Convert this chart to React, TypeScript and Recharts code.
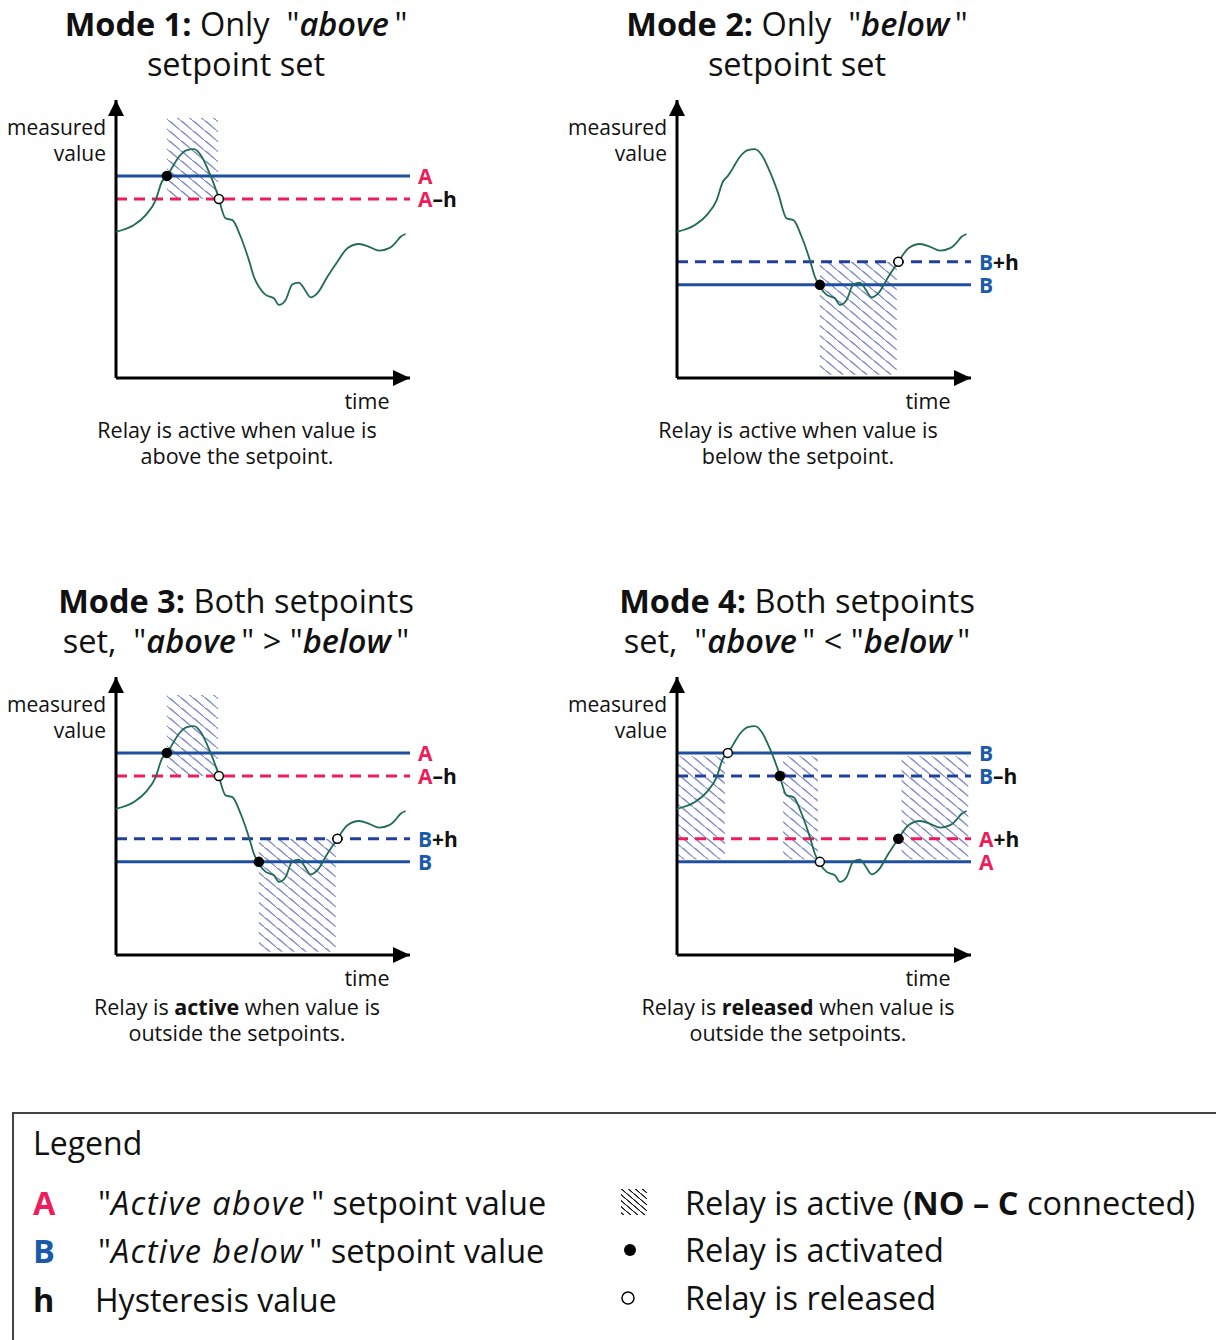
import React from 'react';
import { LineChart, Line, XAxis, YAxis, ReferenceLine, ReferenceArea, ReferenceDot } from 'recharts';

// measured value over time, same curve in every panel (time 0..100, value 0..100)
const times = [0, 6.1, 10.1, 13.5, 15.6, 17.3, 19.0, 21.4, 24.1, 26.5, 28.8, 31.6, 34.4, 37.3, 39.6, 42.4, 45.2, 46.9, 48.6, 50.9, 53.7, 55.4, 57.7, 60.0, 62.2, 63.9, 66.2, 68.5, 71.9, 75.3, 78.7, 82.7, 86.1, 89.5, 92.9, 95.1, 96.8, 98.5];
const values = [52.6, 55.0, 58.6, 64.0, 70.6, 72.7, 75.5, 79.6, 82.0, 82.3, 80.2, 74.2, 66.5, 57.4, 56.8, 50.8, 42.4, 36.4, 32.8, 29.9, 28.7, 26.3, 28.1, 33.7, 34.3, 32.3, 29.0, 30.5, 36.4, 41.8, 46.7, 48.2, 47.2, 45.8, 46.7, 48.7, 50.8, 51.8];

const HIGH = 72.7;
const LOW = 33.5;
const HYST = 8.3;

type SetLine = { value: number; letter: 'A' | 'B'; suffix: string; dashed: boolean };
type Area = { x1: number; x2: number; y1: number; y2: number };
type Mark = { t: number; v: number; on: boolean };

const mode1Lines: SetLine[] = [
  { value: HIGH, letter: 'A', suffix: '', dashed: false },
  { value: HIGH - HYST, letter: 'A', suffix: '–h', dashed: true },
];
const mode2Lines: SetLine[] = [
  { value: LOW + HYST, letter: 'B', suffix: '+h', dashed: true },
  { value: LOW, letter: 'B', suffix: '', dashed: false },
];
const mode3Lines: SetLine[] = [...mode1Lines, ...mode2Lines];
const mode4Lines: SetLine[] = [
  { value: HIGH, letter: 'B', suffix: '', dashed: false },
  { value: HIGH - HYST, letter: 'B', suffix: '–h', dashed: true },
  { value: LOW + HYST, letter: 'A', suffix: '+h', dashed: true },
  { value: LOW, letter: 'A', suffix: '', dashed: false },
];

const activeHigh: Area = { x1: 17.3, x2: 34.7, y1: 64.4, y2: 93.5 };
const activeLow: Area = { x1: 48.6, x2: 74.8, y1: 1.2, y2: 41.8 };
const mode4Active: Area[] = [
  { x1: 0.4, x2: 16.3, y1: 34.4, y2: 71.6 },
  { x1: 36.1, x2: 47.9, y1: 34.4, y2: 71.6 },
  { x1: 76.4, x2: 99.1, y1: 34.4, y2: 71.6 },
];

const mode1Marks: Mark[] = [{ t: 17.3, v: HIGH, on: true }, { t: 35.0, v: HIGH - HYST, on: false }];
const mode2Marks: Mark[] = [{ t: 48.6, v: LOW, on: true }, { t: 75.3, v: LOW + HYST, on: false }];
const mode4Marks: Mark[] = [
  { t: 17.3, v: HIGH, on: false },
  { t: 35.0, v: HIGH - HYST, on: true },
  { t: 48.6, v: LOW, on: false },
  { t: 75.3, v: LOW + HYST, on: true },
];

const curve = times.map((t, i) => ({ t, v: values[i] }));

const PINK = '#ee1c5a';
const BLUE = '#1f4f9f';
const DARK_BLUE = '#22409a';
const LABEL_BLUE = '#1a5aaa';
const FONT = '"Open Sans", "Noto Sans", sans-serif';

const UpArrow = (p: any) => (
  <polygon points={`${p.cx},${p.cy} ${p.cx - 8},${p.cy + 16} ${p.cx + 8},${p.cy + 16}`} fill="#000" />
);
const RightArrow = (p: any) => (
  <polygon points={`${p.cx},${p.cy} ${p.cx - 17},${p.cy - 8} ${p.cx - 17},${p.cy + 8}`} fill="#000" />
);

function ModeChart({ id, lines, areas, marks }: { id: string; lines: SetLine[]; areas: Area[]; marks: Mark[] }) {
  return (
    <LineChart width={384} height={318} data={curve} margin={{ top: 20, right: 70, bottom: 20, left: 20 }}>
      <defs>
        {/* scribbled zig-zag hatch for "relay active" */}
        <pattern id={`hatch-${id}`} width={12} height={10} patternUnits="userSpaceOnUse">
          <path d="M-1.2,-1 L13.2,11 M12,10 L2.4,1.4" stroke="#7f89c9" strokeWidth={1.1} fill="none" />
        </pattern>
      </defs>
      <XAxis type="number" dataKey="t" domain={[0, 100]} hide />
      <YAxis type="number" domain={[0, 100]} hide />
      {areas.map((a, i) => (
        <ReferenceArea key={i} x1={a.x1} x2={a.x2} y1={a.y1} y2={a.y2} fill={`url(#hatch-${id})`} fillOpacity={1} stroke="none" />
      ))}
      {lines.map((l, i) => (
        <ReferenceLine
          key={i}
          y={l.value}
          stroke={l.dashed ? (l.letter === 'A' ? PINK : DARK_BLUE) : BLUE}
          strokeWidth={3}
          strokeDasharray={l.dashed ? '11 7' : undefined}
          label={(p: any) => {
            const vb = p.viewBox || {};
            return (
              <text x={vb.x + vb.width + 8} y={vb.y} dominantBaseline="central" fontFamily={FONT} fontSize={21} fontWeight={700}>
                <tspan fill={l.letter === 'A' ? PINK : LABEL_BLUE}>{l.letter}</tspan>
                {l.suffix ? <tspan fill="#111">{l.suffix}</tspan> : null}
              </text>
            );
          }}
        />
      ))}
      <ReferenceLine x={0} stroke="#000" strokeWidth={3} />
      <ReferenceLine y={0} stroke="#000" strokeWidth={3} />
      <Line dataKey="v" type="monotone" stroke="#1f6b55" strokeWidth={1.8} dot={false} isAnimationActive={false} />
      {marks.map((m, i) => (
        <ReferenceDot key={i} x={m.t} y={m.v} r={4.5} fill={m.on ? '#000' : '#fff'} stroke="#000" strokeWidth={1.5} />
      ))}
      <ReferenceDot x={0} y={100} shape={UpArrow} />
      <ReferenceDot x={100} y={0} shape={RightArrow} />
    </LineChart>
  );
}

const txt: React.CSSProperties = { position: 'absolute', fontFamily: FONT, color: '#111', whiteSpace: 'nowrap' };

function Panel({ left, top, title, caption, children }: { left: number; top: number; title: React.ReactNode[]; caption: React.ReactNode[]; children: React.ReactNode }) {
  return (
    <div style={{ position: 'absolute', left, top, width: 560, height: 576 }}>
      <div style={{ ...txt, left: 36, width: 400, top: 4, fontSize: 32.5, lineHeight: '40px', textAlign: 'center' }}>
        <div>{title[0]}</div>
        <div>{title[1]}</div>
      </div>
      <div style={{ ...txt, left: 0, width: 106, top: 114, fontSize: 21, lineHeight: '26px', textAlign: 'right' }}>
        <div>measured</div>
        <div>value</div>
      </div>
      <div style={{ position: 'absolute', left: 96, top: 80 }}>{children}</div>
      <div style={{ ...txt, left: 317, width: 100, top: 388, fontSize: 21.5, lineHeight: '26px', textAlign: 'center' }}>time</div>
      <div style={{ ...txt, left: 37, width: 400, top: 417, fontSize: 21.5, lineHeight: '26px', textAlign: 'center' }}>
        <div>{caption[0]}</div>
        <div>{caption[1]}</div>
      </div>
    </div>
  );
}

const em = (s: string) => <i style={{ fontWeight: 600 }}>{s}</i>;
const SP = '\u2009';

const LegendHatch = () => (
  <svg width={30} height={30}>
    <defs>
      <pattern id="hatch-legend" width={7} height={6} patternUnits="userSpaceOnUse">
        <path d="M-0.7,-0.6 L7.7,6.6 M7,6 L1.4,0.9" stroke="#000" strokeWidth={1} fill="none" />
      </pattern>
    </defs>
    <rect x={2} y={2} width={26} height={26} fill="url(#hatch-legend)" />
  </svg>
);

export default function App() {
  const row: React.CSSProperties = { ...txt, fontSize: 32.5, lineHeight: '40px' };
  const legendEm: React.CSSProperties = { letterSpacing: '1.4px' };
  return (
    <div style={{ position: 'absolute', left: 0, top: 0, width: 1216, height: 1340, overflow: 'hidden', background: '#fff' }}>
      <Panel left={0} top={0} title={[<><b>Mode 1:</b> Only{'\u00a0 '}"{em('above')}{SP}"</>, 'setpoint set']} caption={['Relay is active when value is', 'above the setpoint.']}>
        <ModeChart id="m1" lines={mode1Lines} areas={[activeHigh]} marks={mode1Marks} />
      </Panel>
      <Panel left={561} top={0} title={[<><b>Mode 2:</b> Only{'\u00a0 '}"{em('below')}{SP}"</>, 'setpoint set']} caption={['Relay is active when value is', 'below the setpoint.']}>
        <ModeChart id="m2" lines={mode2Lines} areas={[activeLow]} marks={mode2Marks} />
      </Panel>
      <Panel left={0} top={577} title={[<><b>Mode 3:</b> Both setpoints</>, <>set,{'\u00a0 '}"{em('above')}{SP}" &gt; "{em('below')}{SP}"</>]} caption={[<>Relay is <b>active</b> when value is</>, 'outside the setpoints.']}>
        <ModeChart id="m3" lines={mode3Lines} areas={[activeHigh, activeLow]} marks={[...mode1Marks, ...mode2Marks]} />
      </Panel>
      <Panel left={561} top={577} title={[<><b>Mode 4:</b> Both setpoints</>, <>set,{'\u00a0 '}"{em('above')}{SP}" &lt; "{em('below')}{SP}"</>]} caption={[<>Relay is <b>released</b> when value is</>, 'outside the setpoints.']}>
        <ModeChart id="m4" lines={mode4Lines} areas={mode4Active} marks={mode4Marks} />
      </Panel>

      <div style={{ position: 'absolute', left: 12, top: 1112, width: 1220, height: 240, borderTop: '2px solid #444', borderLeft: '2px solid #444' }} />
      <div style={{ ...txt, left: 33, top: 1123, fontSize: 32, lineHeight: '40px' }}>Legend</div>
      <div style={{ ...row, left: 33, top: 1183, color: PINK, fontWeight: 700 }}>A</div>
      <div style={{ ...row, left: 98, top: 1183 }}>"<i style={legendEm}>Active above</i>{SP}" setpoint value</div>
      <div style={{ ...row, left: 33, top: 1231, color: LABEL_BLUE, fontWeight: 700 }}>B</div>
      <div style={{ ...row, left: 98, top: 1231 }}>"<i style={legendEm}>Active below</i>{SP}" setpoint value</div>
      <div style={{ ...row, left: 33, top: 1280, fontWeight: 700 }}>h</div>
      <div style={{ ...row, left: 95, top: 1280, fontSize: 32 }}>Hysteresis value</div>

      <div style={{ position: 'absolute', left: 619, top: 1187 }}><LegendHatch /></div>
      <div style={{ ...row, left: 685, top: 1183 }}>Relay is active (<b>NO – C</b> connected)</div>
      <svg style={{ position: 'absolute', left: 620, top: 1240 }} width={20} height={20}><circle cx={10} cy={10} r={6} fill="#000" /></svg>
      <div style={{ ...row, left: 685, top: 1230 }}>Relay is activated</div>
      <svg style={{ position: 'absolute', left: 618, top: 1288 }} width={20} height={20}><circle cx={10} cy={10} r={6} fill="#fff" stroke="#000" strokeWidth={1.5} /></svg>
      <div style={{ ...row, left: 685, top: 1278 }}>Relay is released</div>
    </div>
  );
}
